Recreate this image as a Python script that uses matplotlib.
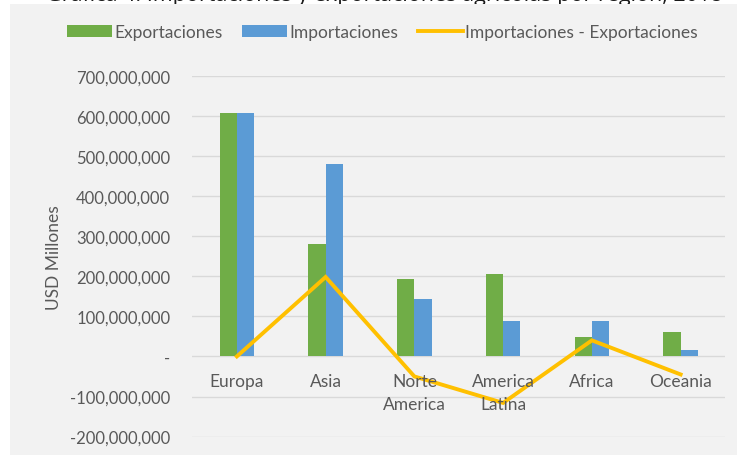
import matplotlib
matplotlib.use("Agg")
import matplotlib.pyplot as plt
from matplotlib.patches import Rectangle
from matplotlib.ticker import FuncFormatter, MultipleLocator
import numpy as np

plt.rcParams['font.family'] = ['Lato', 'DejaVu Sans']

# Regions and trade values (USD)
regions = ["Europa", "Asia", "Norte\nAmerica", "America\nLatina", "Africa", "Oceania"]
exportaciones = [606e6, 281e6, 192e6, 205e6, 48e6, 61e6]
importaciones = [606e6, 479e6, 144e6, 89e6, 88e6, 16e6]
balance = [0, 198e6, -50e6, -116e6, 40e6, -45e6]

title = "Gráfica 4. Importaciones y exportaciones agrícolas por región, 2018"

GREEN = "#70ad47"
BLUE = "#5b9bd5"
GOLD = "#ffc000"
TEXT = "#595959"
GRID = "#d9d9d9"
PANEL = "#f2f2f2"

fig = plt.figure(figsize=(7.37, 4.56), dpi=100)
fig.patch.set_facecolor("white")

# Grey chart panel behind everything
fig.patches.append(Rectangle((10 / 737, 0), 1 - 10 / 737, 1 - 5 / 456,
                             transform=fig.transFigure, facecolor=PANEL,
                             edgecolor="none", zorder=-10))

# Title sits above the panel, mostly cropped at the top edge
fig.text(0.522, 1 - 1.0 / 456, title, ha="center", va="baseline",
         fontsize=15.5, color="#1a1a1a", family=["Open Sans", "DejaVu Sans"],
         zorder=-20)

ax = fig.add_axes([192.5 / 737, 18.4 / 456, 532.5 / 737, 360.9 / 456])
ax.set_facecolor("none")

x = np.arange(len(regions))
w = 0.195
b1 = ax.bar(x - w / 2, exportaciones, width=w, color=GREEN, label="Exportaciones", zorder=2)
b2 = ax.bar(x + w / 2, importaciones, width=w, color=BLUE, label="Importaciones", zorder=2)
ln, = ax.plot(x, balance, color=GOLD, lw=2.8, solid_joinstyle="miter",
              label="Importaciones - Exportaciones", zorder=3)

ax.set_xlim(-0.5, len(regions) - 0.5)
ax.set_ylim(-200e6, 700e6)
ax.yaxis.set_major_locator(MultipleLocator(100e6))
ax.yaxis.set_major_formatter(FuncFormatter(lambda v, p: "-" if abs(v) < 1 else f"{v:,.0f}"))
ax.grid(axis="y", color=GRID, lw=1.0, zorder=1)
ax.set_axisbelow(True)
for s in ax.spines.values():
    s.set_visible(False)
ax.tick_params(axis="y", length=0, pad=16, labelsize=12, labelcolor=TEXT)
ax.set_xticks([])

for xi, name in zip(x, regions):
    ax.text(xi, -42e6, name, ha="center", va="top", fontsize=12.5,
            color=TEXT, linespacing=1.5, zorder=4)

ax.set_ylabel("USD Millones", fontsize=12.5, color=TEXT)
ax.yaxis.set_label_coords(-0.246, 0.5)

fig.legend(handles=[b1, b2, ln], loc="center", ncol=3,
           bbox_to_anchor=(0.519, 1 - 33 / 456), frameon=False,
           fontsize=12.5, labelcolor=TEXT, handlelength=2.6, handleheight=0.7,
           handletextpad=0.15, columnspacing=1.1)

fig.savefig("out.png", dpi=100, facecolor=fig.get_facecolor())
